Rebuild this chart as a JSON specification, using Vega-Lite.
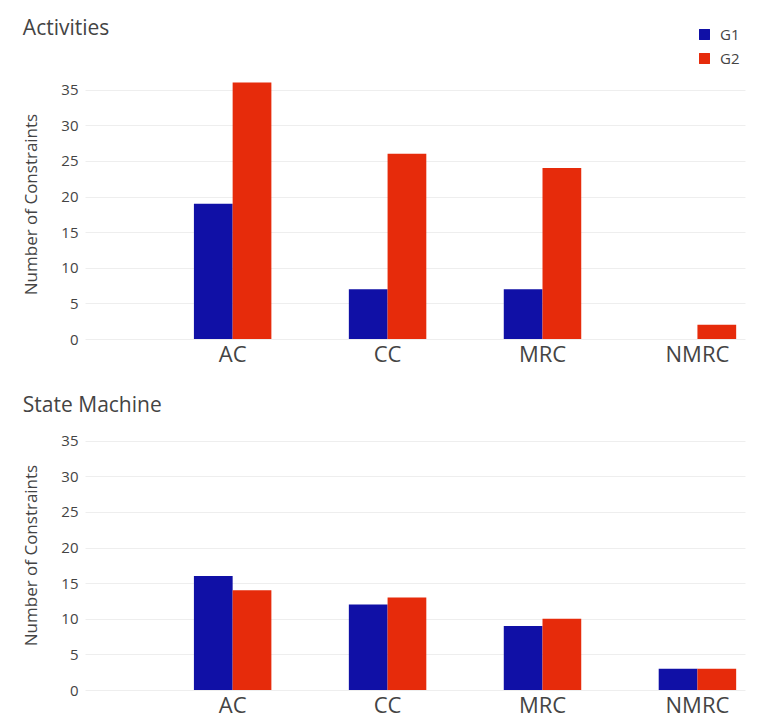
{
  "$schema": "https://vega.github.io/schema/vega-lite/v6.json",
  "background": "white",
  "padding": {"left": 22, "top": 18, "right": 5, "bottom": 5},
  "config": {
    "font": "Open Sans",
    "view": {"stroke": null},
    "axis": {"domain": false, "ticks": false, "labelColor": "#444444", "titleColor": "#444444", "gridColor": "#eeeeee", "titleFontWeight": "normal"},
    "title": {"fontWeight": "normal", "color": "#444444", "fontSize": 21, "anchor": "start", "frame": "bounds"},
    "legend": {"labelColor": "#444444"}
  },
  "data": {
    "values": [
      {"chart": "Activities", "category": "AC", "group": "G1", "value": 19},
      {"chart": "Activities", "category": "AC", "group": "G2", "value": 36},
      {"chart": "Activities", "category": "CC", "group": "G1", "value": 7},
      {"chart": "Activities", "category": "CC", "group": "G2", "value": 26},
      {"chart": "Activities", "category": "MRC", "group": "G1", "value": 7},
      {"chart": "Activities", "category": "MRC", "group": "G2", "value": 24},
      {"chart": "Activities", "category": "NMRC", "group": "G1", "value": 0},
      {"chart": "Activities", "category": "NMRC", "group": "G2", "value": 2},
      {"chart": "State Machine", "category": "AC", "group": "G1", "value": 16},
      {"chart": "State Machine", "category": "AC", "group": "G2", "value": 14},
      {"chart": "State Machine", "category": "CC", "group": "G1", "value": 12},
      {"chart": "State Machine", "category": "CC", "group": "G2", "value": 13},
      {"chart": "State Machine", "category": "MRC", "group": "G1", "value": 9},
      {"chart": "State Machine", "category": "MRC", "group": "G2", "value": 10},
      {"chart": "State Machine", "category": "NMRC", "group": "G1", "value": 3},
      {"chart": "State Machine", "category": "NMRC", "group": "G2", "value": 3}
    ]
  },
  "spacing": 30,
  "vconcat": [
    {
      "title": {"text": "Activities", "offset": 30},
      "transform": [{"filter": "datum.chart == 'Activities'"}],
      "width": 660,
      "height": 270,
      "mark": "bar",
      "encoding": {
        "x": {"field": "category", "type": "nominal", "scale": {"domain": ["AC", "CC", "MRC", "NMRC"], "paddingInner": 0.5, "paddingOuter": 0.38, "align": 0.925}, "axis": {"title": null, "labelAngle": 0, "labelFontSize": 22, "labelPadding": 5, "grid": false}},
        "xOffset": {"field": "group", "type": "nominal"},
        "y": {"field": "value", "type": "quantitative", "scale": {"domain": [0, 37.9], "nice": false}, "axis": {"values": [0, 5, 10, 15, 20, 25, 30, 35], "title": "Number of Constraints", "titleFontSize": 17, "labelFontSize": 15, "labelPadding": 7, "titlePadding": 20}},
        "color": {"field": "group", "type": "nominal", "scale": {"domain": ["G1", "G2"], "range": ["#1010a6", "#e62b0b"]}, "legend": {"title": null, "orient": "none", "legendX": 612, "legendY": -42, "symbolType": "square", "symbolSize": 120, "labelFontSize": 15, "labelOffset": 8, "rowPadding": 8, "symbolStrokeWidth": 0}}
      }
    },
    {
      "title": {"text": "State Machine", "offset": 4},
      "transform": [{"filter": "datum.chart == 'State Machine'"}],
      "width": 660,
      "height": 270,
      "mark": "bar",
      "encoding": {
        "x": {"field": "category", "type": "nominal", "scale": {"domain": ["AC", "CC", "MRC", "NMRC"], "paddingInner": 0.5, "paddingOuter": 0.38, "align": 0.925}, "axis": {"title": null, "labelAngle": 0, "labelFontSize": 22, "labelPadding": 5, "grid": false}},
        "xOffset": {"field": "group", "type": "nominal"},
        "y": {"field": "value", "type": "quantitative", "scale": {"domain": [0, 37.9], "nice": false}, "axis": {"values": [0, 5, 10, 15, 20, 25, 30, 35], "title": "Number of Constraints", "titleFontSize": 17, "labelFontSize": 15, "labelPadding": 7, "titlePadding": 20}},
        "color": {"field": "group", "type": "nominal", "scale": {"domain": ["G1", "G2"], "range": ["#1010a6", "#e62b0b"]}}
      }
    }
  ]
}
